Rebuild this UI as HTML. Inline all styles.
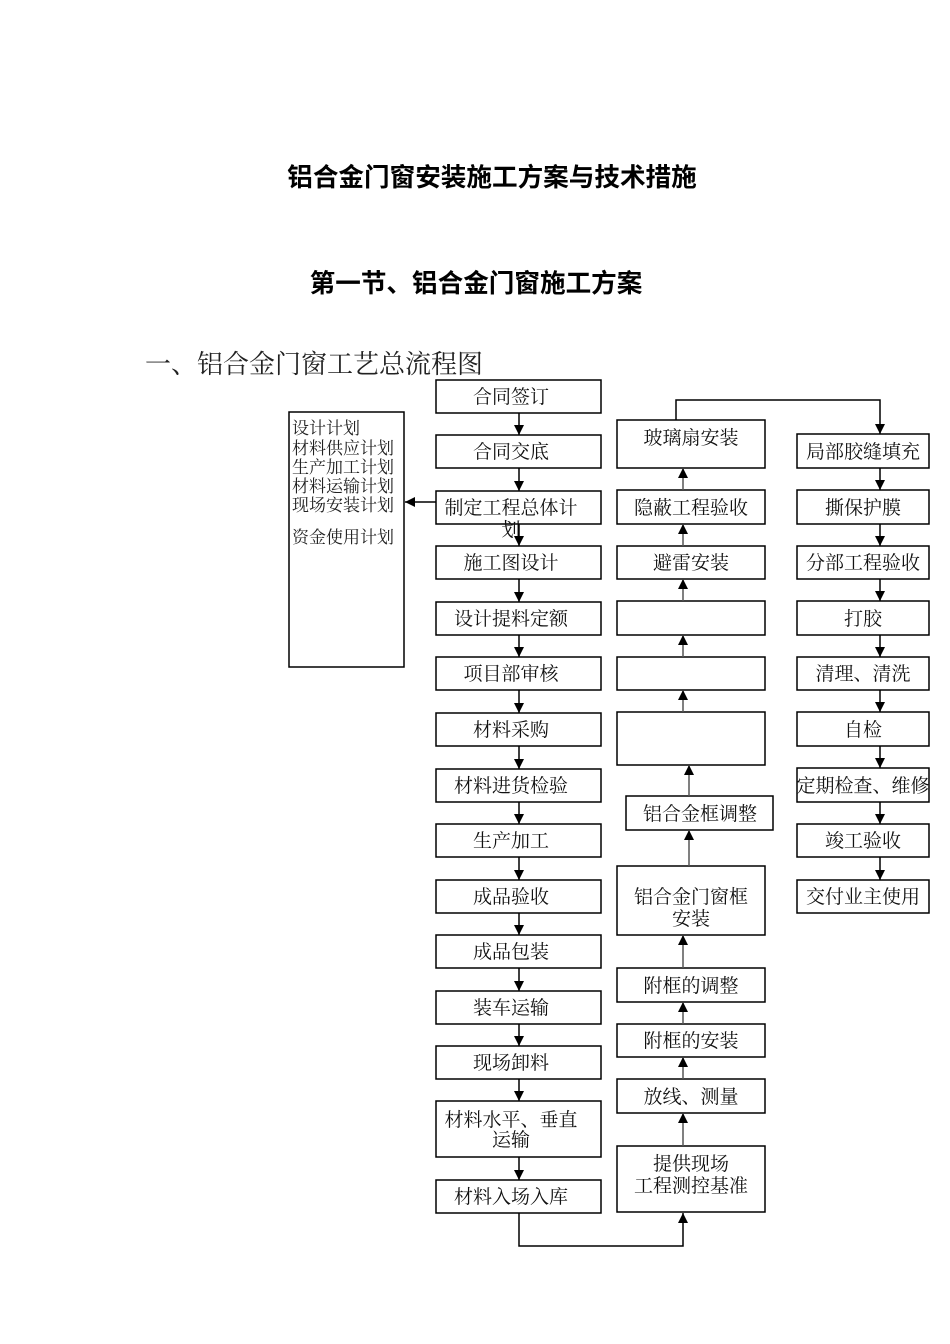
<!DOCTYPE html>
<html><head><meta charset="utf-8">
<style>
html,body{margin:0;padding:0;background:#fff;}
svg{display:block;}
.b{fill:#fff;stroke:#000;stroke-width:1.5;}
.t{font-family:"Liberation Serif","Noto Serif CJK SC",serif;font-size:19px;fill:#111;text-anchor:middle;}
.l{stroke:#000;stroke-width:1.5;fill:none;}
.g{stroke:#555;stroke-width:1.5;fill:none;}
</style></head><body>
<svg width="950" height="1344" viewBox="0 0 950 1344" xmlns="http://www.w3.org/2000/svg">
<defs>
<marker id="a" markerWidth="10" markerHeight="10" refX="10" refY="5" orient="auto" markerUnits="userSpaceOnUse" viewBox="0 0 10 10">
<path d="M0,0 L10,5 L0,10 z" fill="#000"/></marker>
</defs>
<text x="492" y="186" style="font-family:'Liberation Sans','Noto Sans CJK SC',sans-serif;font-weight:bold;font-size:25.6px;" text-anchor="middle" fill="#000">铝合金门窗安装施工方案与技术措施</text>
<text x="476" y="292" style="font-family:'Liberation Sans','Noto Sans CJK SC',sans-serif;font-weight:bold;font-size:25.6px;" text-anchor="middle" fill="#000">第一节、铝合金门窗施工方案</text>
<text x="145" y="373" style="font-family:'Liberation Serif','Noto Serif CJK SC',serif;font-size:26px;" fill="#222">一、铝合金门窗工艺总流程图</text>

<rect class="b" x="289" y="412" width="115" height="255"/>
<g style="font-family:'Liberation Serif','Noto Serif CJK SC',serif;font-size:17px;" fill="#222">
<text x="292" y="434">设计计划</text>
<text x="292" y="454">材料供应计划</text>
<text x="292" y="473">生产加工计划</text>
<text x="292" y="492">材料运输计划</text>
<text x="292" y="511">现场安装计划</text>
<text x="292" y="543">资金使用计划</text>
</g>
<line class="l" x1="436" y1="502" x2="405" y2="502" marker-end="url(#a)"/>

<g>
<rect class="b" x="436" y="380" width="165" height="33"/><text class="t" x="511" y="403">合同签订</text>
<rect class="b" x="436" y="435" width="165" height="33"/><text class="t" x="511" y="458">合同交底</text>
<rect class="b" x="436" y="491" width="165" height="33"/><text class="t" x="511" y="514">制定工程总体计</text><text class="t" x="511" y="536">划</text>
<rect class="b" x="436" y="546" width="165" height="33"/><text class="t" x="511" y="569">施工图设计</text>
<rect class="b" x="436" y="602" width="165" height="33"/><text class="t" x="511" y="625">设计提料定额</text>
<rect class="b" x="436" y="657" width="165" height="33"/><text class="t" x="511" y="680">项目部审核</text>
<rect class="b" x="436" y="713" width="165" height="33"/><text class="t" x="511" y="736">材料采购</text>
<rect class="b" x="436" y="769" width="165" height="33"/><text class="t" x="511" y="792">材料进货检验</text>
<rect class="b" x="436" y="824" width="165" height="33"/><text class="t" x="511" y="847">生产加工</text>
<rect class="b" x="436" y="880" width="165" height="33"/><text class="t" x="511" y="903">成品验收</text>
<rect class="b" x="436" y="935" width="165" height="33"/><text class="t" x="511" y="958">成品包装</text>
<rect class="b" x="436" y="991" width="165" height="33"/><text class="t" x="511" y="1014">装车运输</text>
<rect class="b" x="436" y="1046" width="165" height="33"/><text class="t" x="511" y="1069">现场卸料</text>
<rect class="b" x="436" y="1101" width="165" height="56"/><text class="t" x="511" y="1126">材料水平、垂直</text><text class="t" x="511" y="1146">运输</text>
<rect class="b" x="436" y="1180" width="165" height="33"/><text class="t" x="511" y="1203">材料入场入库</text>
</g>
<g>
<line class="l" x1="519" y1="413" x2="519" y2="435" marker-end="url(#a)"/>
<line class="l" x1="519" y1="468" x2="519" y2="491" marker-end="url(#a)"/>
<line class="l" x1="519" y1="524" x2="519" y2="546" marker-end="url(#a)"/>
<line class="l" x1="519" y1="579" x2="519" y2="602" marker-end="url(#a)"/>
<line class="l" x1="519" y1="635" x2="519" y2="657" marker-end="url(#a)"/>
<line class="l" x1="519" y1="690" x2="519" y2="713" marker-end="url(#a)"/>
<line class="l" x1="519" y1="746" x2="519" y2="769" marker-end="url(#a)"/>
<line class="l" x1="519" y1="802" x2="519" y2="824" marker-end="url(#a)"/>
<line class="l" x1="519" y1="857" x2="519" y2="880" marker-end="url(#a)"/>
<line class="l" x1="519" y1="913" x2="519" y2="935" marker-end="url(#a)"/>
<line class="l" x1="519" y1="968" x2="519" y2="991" marker-end="url(#a)"/>
<line class="l" x1="519" y1="1024" x2="519" y2="1046" marker-end="url(#a)"/>
<line class="l" x1="519" y1="1079" x2="519" y2="1101" marker-end="url(#a)"/>
<line class="l" x1="519" y1="1157" x2="519" y2="1180" marker-end="url(#a)"/>
</g>
<polyline class="l" points="519,1213 519,1246 683,1246 683,1213" marker-end="url(#a)"/>

<g>
<rect class="b" x="617" y="420" width="148" height="48"/><text class="t" x="691" y="444">玻璃扇安装</text>
<rect class="b" x="617" y="490" width="148" height="34"/><text class="t" x="691" y="514">隐蔽工程验收</text>
<rect class="b" x="617" y="546" width="148" height="33"/><text class="t" x="691" y="569">避雷安装</text>
<rect class="b" x="617" y="601" width="148" height="34"/>
<rect class="b" x="617" y="657" width="148" height="33"/>
<rect class="b" x="617" y="712" width="148" height="53"/>
<rect class="b" x="626" y="796" width="147" height="34"/><text class="t" x="700" y="820">铝合金框调整</text>
<rect class="b" x="617" y="866" width="148" height="69"/><text class="t" x="691" y="903">铝合金门窗框</text><text class="t" x="691" y="925">安装</text>
<rect class="b" x="617" y="968" width="148" height="34"/><text class="t" x="691" y="992">附框的调整</text>
<rect class="b" x="617" y="1024" width="148" height="33"/><text class="t" x="691" y="1047">附框的安装</text>
<rect class="b" x="617" y="1079" width="148" height="34"/><text class="t" x="691" y="1103">放线、测量</text>
<rect class="b" x="617" y="1146" width="148" height="66"/><text class="t" x="691" y="1170">提供现场</text><text class="t" x="691" y="1192">工程测控基准</text>
</g>
<g>
<line class="g" x1="683" y1="490" x2="683" y2="468" marker-end="url(#a)"/>
<line class="g" x1="683" y1="546" x2="683" y2="524" marker-end="url(#a)"/>
<line class="g" x1="683" y1="601" x2="683" y2="579" marker-end="url(#a)"/>
<line class="g" x1="683" y1="657" x2="683" y2="635" marker-end="url(#a)"/>
<line class="g" x1="683" y1="712" x2="683" y2="690" marker-end="url(#a)"/>
<line class="g" x1="689" y1="796" x2="689" y2="765" marker-end="url(#a)"/>
<line class="g" x1="689" y1="866" x2="689" y2="830" marker-end="url(#a)"/>
<line class="g" x1="683" y1="968" x2="683" y2="935" marker-end="url(#a)"/>
<line class="g" x1="683" y1="1024" x2="683" y2="1002" marker-end="url(#a)"/>
<line class="g" x1="683" y1="1079" x2="683" y2="1057" marker-end="url(#a)"/>
<line class="g" x1="683" y1="1146" x2="683" y2="1113" marker-end="url(#a)"/>
</g>
<polyline class="l" points="676,420 676,400 880,400 880,434" marker-end="url(#a)"/>

<g>
<rect class="b" x="797" y="434" width="132" height="34"/><text class="t" x="863" y="458">局部胶缝填充</text>
<rect class="b" x="797" y="490" width="132" height="34"/><text class="t" x="863" y="514">撕保护膜</text>
<rect class="b" x="797" y="546" width="132" height="33"/><text class="t" x="863" y="569">分部工程验收</text>
<rect class="b" x="797" y="601" width="132" height="34"/><text class="t" x="863" y="625">打胶</text>
<rect class="b" x="797" y="657" width="132" height="33"/><text class="t" x="863" y="680">清理、清洗</text>
<rect class="b" x="797" y="712" width="132" height="34"/><text class="t" x="863" y="736">自检</text>
<rect class="b" x="797" y="768" width="132" height="34"/><text class="t" x="863" y="792">定期检查、维修</text>
<rect class="b" x="797" y="824" width="132" height="33"/><text class="t" x="863" y="847">竣工验收</text>
<rect class="b" x="797" y="880" width="132" height="33"/><text class="t" x="863" y="903">交付业主使用</text>
</g>
<g>
<line class="l" x1="880" y1="468" x2="880" y2="490" marker-end="url(#a)"/>
<line class="l" x1="880" y1="524" x2="880" y2="546" marker-end="url(#a)"/>
<line class="l" x1="880" y1="579" x2="880" y2="601" marker-end="url(#a)"/>
<line class="l" x1="880" y1="635" x2="880" y2="657" marker-end="url(#a)"/>
<line class="l" x1="880" y1="690" x2="880" y2="712" marker-end="url(#a)"/>
<line class="l" x1="880" y1="746" x2="880" y2="768" marker-end="url(#a)"/>
<line class="l" x1="880" y1="802" x2="880" y2="824" marker-end="url(#a)"/>
<line class="l" x1="880" y1="857" x2="880" y2="880" marker-end="url(#a)"/>
</g>
</svg>
</body></html>
